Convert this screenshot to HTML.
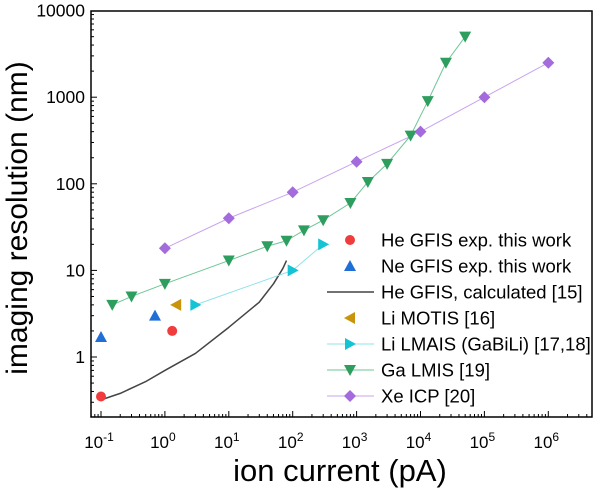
<!DOCTYPE html>
<html><head><meta charset="utf-8"><style>
body{margin:0;background:#fff}
svg{display:block;font-family:"Liberation Sans",Arial,sans-serif}
</style></head><body>
<svg id="c" width="606" height="490"></svg>
<script>
const heExpX=[0.1,1.3], heExpY=[0.35,2.0];
const neExpX=[0.1,0.7], neExpY=[1.7,3.0];
const heCalcX=[0.1,0.2,0.5,1,3,10,30,50,70,80], heCalcY=[0.32,0.38,0.52,0.7,1.1,2.2,4.3,7,10.5,13];
const motisX=[1.5], motisY=[4];
const lmaisX=[3,100,300], lmaisY=[4,10,20];
const gaX=[0.15,0.3,1,10,40,80,150,300,800,1500,3000,7000,13000,25000,50000];
const gaY=[4,5,7,13,19,22,29,38,60,105,170,360,900,2500,5000];
const xeX=[1,10,100,1000,10000,100000,1000000], xeY=[18,40,80,180,400,1000,2500];
const xTicks=[-1,0,1,2,3,4,5,6];
const yTicks=[1,10,100,1000,10000];
const L=91,R=592,T=11,B=417;
const xl=v=>101+(Math.log10(v)+1)*63.9;
const yl=v=>357-Math.log10(v)*86.6;
const s=document.getElementById('c');const NS='http://www.w3.org/2000/svg';
function el(t,a,p){const e=document.createElementNS(NS,t);for(const k in a)e.setAttribute(k,a[k]);(p||s).appendChild(e);return e;}
const ax=el('rect',{x:L,y:T,width:R-L,height:B-T,fill:'none',stroke:'#000','stroke-width':1.5});


for(let d=-2;d<=6;d++)for(let m=1;m<10;m++){const v=m*Math.pow(10,d);const x=xl(v);if(x<L||x>R)continue;
 el('line',{x1:x,x2:x,y1:B,y2:B-(m==1?6:3),stroke:'#000','stroke-width':1});}
for(let d=-1;d<=3;d++)for(let m=1;m<10;m++){const v=m*Math.pow(10,d);const y=yl(v);if(y<T||y>B)continue;
 el('line',{x1:L,x2:L+(m==1?6:3),y1:y,y2:y,stroke:'#000','stroke-width':1});}
xTicks.forEach(e=>{const t=el('text',{x:xl(Math.pow(10,e))-2,y:448,'text-anchor':'middle','font-size':17});
 
 
 t.textContent='10';const sp=el('tspan',{dy:-7,'font-size':12},t);sp.textContent=e;});
yTicks.forEach(v=>{const t=el('text',{x:L-6,y:yl(v)+6,'text-anchor':'end','font-size':17.5});
 
 
 t.textContent=v;});
let t=el('text',{x:340,y:481,'text-anchor':'middle','font-size':31});t.textContent='ion current (pA)';


t=el('text',{x:0,y:0,'text-anchor':'middle','font-size':30,transform:'translate(27,218) rotate(-90)'});t.textContent='imaging resolution (nm)';


function marker(type,x,y,c,g){
 if(type=='circle')return el('circle',{cx:x,cy:y,r:5,fill:c},g);
 let p;if(type=='up')p=[[x,y-6],[x-6,y+5],[x+6,y+5]];
 if(type=='down')p=[[x,y+6],[x-6,y-5],[x+6,y-5]];
 if(type=='left')p=[[x-6,y],[x+5,y-6],[x+5,y+6]];
 if(type=='right')p=[[x+6,y],[x-5,y-6],[x-5,y+6]];
 if(type=='diamond')p=[[x,y-6],[x+6,y],[x,y+6],[x-6,y]];
 return el('polygon',{points:p.map(q=>q.join(',')).join(' '),fill:c},g);}
function series(name,X,Y,type,c,lc,lw){const g=el('g',{});
 
 
 if(lc)el('polyline',{points:X.map((v,i)=>xl(v)+','+yl(Y[i])).join(' '),fill:'none',stroke:lc,'stroke-width':lw,'stroke-linejoin':'round'},g);
 if(type)X.forEach((v,i)=>marker(type,xl(v),yl(Y[i]),c,g));}
series('he-calculated-line',heCalcX,heCalcY,null,null,'#444',1.5);
series('xe-icp-series',xeX,xeY,'diamond','#a36bdc','#c9a3ee',1);
series('ga-lmis-series',gaX,gaY,'down','#2e9e5e','#6cc596',1);
series('li-lmais-series',lmaisX,lmaisY,'right','#14c4d4','#8fe3ea',1);
series('li-motis-series',motisX,motisY,'left','#c9930a',null);
series('ne-gfis-series',neExpX,neExpY,'up','#1f6fd6',null);
series('he-gfis-series',heExpX,heExpY,'circle','#f03c3c',null);
const leg=[['He GFIS exp. this work','circle','#f03c3c',null],['Ne GFIS exp. this work','up','#1f6fd6',null],
['He GFIS, calculated [15]',null,null,'#444'],['Li MOTIS [16]','left','#c9930a',null],
['Li LMAIS (GaBiLi) [17,18]','right','#14c4d4','#8fe3ea'],['Ga LMIS [19]','down','#2e9e5e','#6cc596'],['Xe ICP [20]','diamond','#a36bdc','#c9a3ee']];
leg.forEach((e,i)=>{const y=240+i*26;const g=el('g',{});
 
 
 if(e[3])el('line',{x1:327,x2:374,y1:y,y2:y,stroke:e[3],'stroke-width':e[3]=='#444'?1.5:1},g);
 if(e[1])marker(e[1],350,y,e[2],g);
 const tt=el('text',{x:381,y:y+6.5,'font-size':18.5},g);tt.textContent=e[0];});
</script>
</body></html>
